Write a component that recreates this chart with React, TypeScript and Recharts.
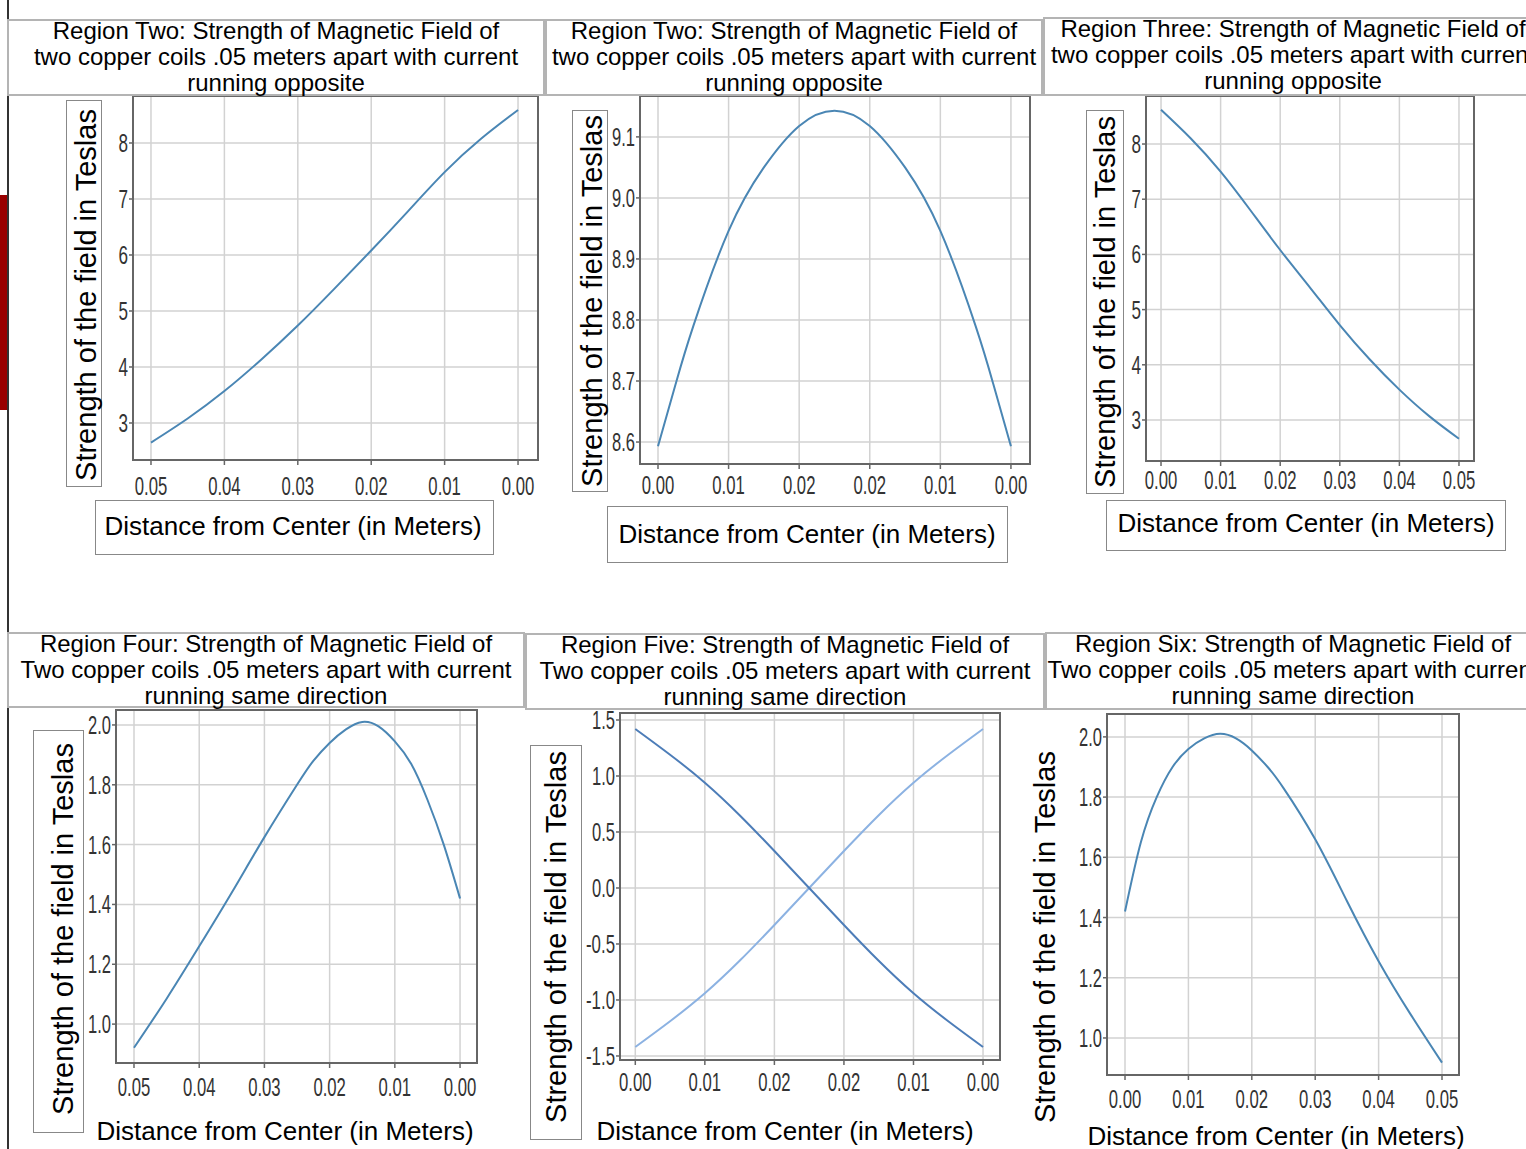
import React from "react";
import { LineChart, Line, XAxis, YAxis, CartesianGrid, ReferenceArea } from "recharts";

// tick values / labels
const xTicks = [0, 0.01, 0.02, 0.03, 0.04, 0.05];
const xLabelsPlain = ["0.00", "0.01", "0.02", "0.03", "0.04", "0.05"];
const xLabelsMirror = ["0.00", "0.01", "0.02", "0.02", "0.01", "0.00"];
const yTicksBig = [3, 4, 5, 6, 7, 8];
const yTicksPeak = [8.6, 8.7, 8.8, 8.9, 9.0, 9.1];
const yTicksSmall = [1.0, 1.2, 1.4, 1.6, 1.8, 2.0];
const yTicksCross = [-1.5, -1.0, -0.5, 0.0, 0.5, 1.0, 1.5];

// region two (left): distance from center vs field
const r2aX = [0.05, 0.045, 0.04, 0.035, 0.03, 0.025, 0.02, 0.015, 0.01, 0.005, 0];
const r2aY = [2.65, 3.08, 3.57, 4.13, 4.74, 5.4, 6.08, 6.78, 7.48, 8.08, 8.59];

// region two (middle)
const r2bX = [0, 0.0025, 0.005, 0.01, 0.015, 0.02, 0.025, 0.03, 0.035, 0.04, 0.045, 0.0475, 0.05];
const r2bY = [8.593, 8.695, 8.79, 8.946, 9.05, 9.118, 9.143, 9.118, 9.05, 8.946, 8.79, 8.695, 8.593];

// region three
const r3X = [0, 0.005, 0.01, 0.015, 0.02, 0.025, 0.03, 0.035, 0.04, 0.045, 0.05];
const r3Y = [8.62, 8.1, 7.5, 6.8, 6.08, 5.4, 4.72, 4.1, 3.55, 3.07, 2.66];

// region four
const r4X = [0.05, 0.045, 0.04, 0.035, 0.03, 0.025, 0.0225, 0.02, 0.0175, 0.015, 0.0125, 0.01, 0.0075, 0.005, 0.0025, 0];
const r4Y = [0.921, 1.085, 1.26, 1.44, 1.625, 1.8, 1.88, 1.94, 1.985, 2.01, 1.995, 1.945, 1.87, 1.75, 1.6, 1.42];

// region five: two coils, opposite signs
const r5X = [0, 0.005, 0.01, 0.015, 0.02, 0.025, 0.03, 0.035, 0.04, 0.045, 0.05];
const r5A = [1.42, 1.19, 0.94, 0.65, 0.33, 0.0, -0.33, -0.65, -0.94, -1.19, -1.42];
const r5B = [-1.42, -1.19, -0.94, -0.65, -0.33, 0.0, 0.33, 0.65, 0.94, 1.19, 1.42];

// region six
const r6X = [0, 0.0025, 0.005, 0.0075, 0.01, 0.0125, 0.015, 0.0175, 0.02, 0.0225, 0.025, 0.03, 0.035, 0.04, 0.045, 0.05];
const r6Y = [1.42, 1.65, 1.8, 1.9, 1.96, 1.995, 2.01, 1.995, 1.955, 1.9, 1.83, 1.66, 1.455, 1.255, 1.08, 0.918];

const LINE = "#4a86b4";
const FONT = "'Liberation Sans', Arial, sans-serif";

const charW = (s: string) =>
  s.split("").reduce((w, c) => w + (c === "." ? 4 : c === "-" ? 6 : 9.5), 0);

function TickText({ x, y, value, anchor, dy }: any) {
  return (
    <text
      x={x}
      y={y}
      dy={dy}
      textAnchor={anchor}
      fontSize={25}
      fill="#333"
      fontFamily={FONT}
      textLength={charW(value)}
      lengthAdjust="spacingAndGlyphs"
    >
      {value}
    </text>
  );
}

type Series = { key: string; color: string };

interface PanelProps {
  plot: { l: number; t: number; r: number; b: number };
  rows: any[];
  series: Series[];
  xDomain: [number, number];
  yDomain: [number, number];
  xLabels: string[];
  yTicks: number[];
  yDigits: number;
  reversed?: boolean;
  xOff: number;
}

function Panel({ plot, rows, series, xDomain, yDomain, xLabels, yTicks, yDigits, reversed, xOff }: PanelProps) {
  const yw = 70;
  const xh = 50;
  const rm = 30;
  const w = plot.r - plot.l + yw + rm;
  const h = plot.b - plot.t + 10 + xh;
  return (
    <div style={{ position: "absolute", left: plot.l - yw, top: plot.t - 10 }}>
      <LineChart width={w} height={h} data={rows} margin={{ top: 10, right: rm, bottom: 0, left: 0 }}>
        <CartesianGrid stroke="#d2d2d2" strokeWidth={1.5} />
        <XAxis
          type="number"
          dataKey="x"
          domain={xDomain}
          ticks={xTicks}
          reversed={reversed}
          allowDataOverflow
          height={xh}
          axisLine={false}
          tickLine={{ stroke: "#666", strokeWidth: 1.5 }}
          tickSize={5}
          tickMargin={xOff - 5}
          tick={(p: any) => {
            let i = 0;
            xTicks.forEach((t, k) => {
              if (Math.abs(t - p.payload.value) < 1e-6) i = k;
            });
            return <TickText x={p.x} y={p.y} value={xLabels[i]} anchor="middle" dy="0.71em" />;
          }}
        />
        <YAxis
          type="number"
          domain={yDomain}
          ticks={yTicks}
          allowDataOverflow
          width={yw}
          axisLine={false}
          tickLine={{ stroke: "#666", strokeWidth: 1.5 }}
          tickSize={4}
          tickMargin={1}
          tick={(p: any) => (
            <TickText x={p.x} y={p.y} value={Number(p.payload.value).toFixed(yDigits)} anchor="end" dy="0.36em" />
          )}
        />
        <ReferenceArea
          x1={xDomain[0]}
          x2={xDomain[1]}
          y1={yDomain[0]}
          y2={yDomain[1]}
          fill="none"
          stroke="#666"
          strokeWidth={2}
          ifOverflow="visible"
        />
        {series.map((s) => (
          <Line
            key={s.key}
            type="natural"
            dataKey={s.key}
            stroke={s.color}
            strokeWidth={2}
            dot={false}
            isAnimationActive={false}
          />
        ))}
      </LineChart>
    </div>
  );
}

const zip = (xs: number[], ...cols: [string, number[]][]) =>
  xs.map((x, i) => {
    const row: any = { x };
    cols.forEach(([k, v]) => (row[k] = v[i]));
    return row;
  });

function TitleBox({ l, t, w, h, lines }: { l: number; t: number; w: number; h: number; lines: string[] }) {
  return (
    <div
      style={{
        position: "absolute",
        left: l,
        top: t,
        width: w,
        height: h,
        boxSizing: "border-box",
        border: "2px solid #b4b4b4",
        background: "#fff",
        fontFamily: FONT,
        fontSize: 24,
        lineHeight: "26px",
        textAlign: "center",
        whiteSpace: "nowrap",
        color: "#000",
      }}
    >
      <div style={{ position: "relative", top: -3 }}>
        {lines.map((s, i) => (
          <div key={i}>{s}</div>
        ))}
      </div>
    </div>
  );
}

function Box({ l, t, w, h }: { l: number; t: number; w: number; h: number }) {
  return (
    <div
      style={{
        position: "absolute",
        left: l,
        top: t,
        width: w,
        height: h,
        boxSizing: "border-box",
        border: "1.5px solid #888",
        background: "#fff",
      }}
    />
  );
}

function Label({ cx, cy, text, size, rotate }: { cx: number; cy: number; text: string; size: number; rotate?: boolean }) {
  return (
    <div
      style={{
        position: "absolute",
        left: cx,
        top: cy,
        transform: `translate(-50%, -50%)${rotate ? " rotate(-90deg)" : ""}`,
        whiteSpace: "nowrap",
        fontFamily: FONT,
        fontSize: size,
        lineHeight: 1,
        color: "#000",
      }}
    >
      {text}
    </div>
  );
}

const YLABEL = "Strength of the field in Teslas";
const XLABEL = "Distance from Center (in Meters)";
const TITLE_OPP = ["two copper coils .05 meters apart with current", "running opposite"];
const TITLE_SAME = ["Two copper coils .05 meters apart with current", "running same direction"];

export default function App() {
  return (
    <div
      style={{
        position: "absolute",
        left: 0,
        top: 0,
        width: 1526,
        height: 1149,
        overflow: "hidden",
        background: "#fff",
      }}
    >
      {/* left page edge */}
      <div style={{ position: "absolute", left: 0, top: 195, width: 7, height: 215, background: "#990000" }} />
      <div style={{ position: "absolute", left: 7, top: 0, width: 2, height: 1149, background: "#333" }} />

      {/* top row */}
      <Box l={66} t={100} w={36} h={387} />
      <Label cx={86} cy={295} text={YLABEL} size={29} rotate />
      <Panel
        plot={{ l: 133, t: 96, r: 538, b: 460 }}
        rows={zip(r2aX, ["y", r2aY])}
        series={[{ key: "y", color: LINE }]}
        xDomain={[-0.00272, 0.05245]}
        yDomain={[2.339, 8.839]}
        xLabels={xLabelsPlain}
        yTicks={yTicksBig}
        yDigits={0}
        reversed
        xOff={17}
      />
      <Box l={95} t={500} w={399} h={55} />
      <Label cx={293} cy={526} text={XLABEL} size={26} />

      <Box l={572} t={110} w={36} h={382} />
      <Label cx={592} cy={301} text={YLABEL} size={29} rotate />
      <Panel
        plot={{ l: 640, t: 96, r: 1030, b: 464 }}
        rows={zip(r2bX, ["y", r2bY])}
        series={[{ key: "y", color: LINE }]}
        xDomain={[-0.00255, 0.0527]}
        yDomain={[8.564, 9.167]}
        xLabels={xLabelsMirror}
        yTicks={yTicksPeak}
        yDigits={1}
        xOff={12}
      />
      <Box l={607} t={506} w={401} h={57} />
      <Label cx={807} cy={534} text={XLABEL} size={26} />

      <Box l={1086} t={110} w={38} h={384} />
      <Label cx={1105} cy={302} text={YLABEL} size={29} rotate />
      <Panel
        plot={{ l: 1146, t: 96, r: 1474, b: 461 }}
        rows={zip(r3X, ["y", r3Y])}
        series={[{ key: "y", color: LINE }]}
        xDomain={[-0.00252, 0.05252]}
        yDomain={[2.257, 8.87]}
        xLabels={xLabelsPlain}
        yTicks={yTicksBig}
        yDigits={0}
        xOff={10}
      />
      <Box l={1106} t={500} w={400} h={51} />
      <Label cx={1306} cy={523} text={XLABEL} size={26} />

      <TitleBox l={7} t={19} w={538} h={77} lines={["Region Two: Strength of Magnetic Field of", ...TITLE_OPP]} />
      <TitleBox l={545} t={19} w={498} h={77} lines={["Region Two: Strength of Magnetic Field of", ...TITLE_OPP]} />
      <TitleBox l={1043} t={17} w={500} h={79} lines={["Region Three: Strength of Magnetic Field of", ...TITLE_OPP]} />

      {/* bottom row */}
      <Box l={33} t={730} w={51} h={403} />
      <Label cx={63} cy={929} text={YLABEL} size={29} rotate />
      <Panel
        plot={{ l: 116, t: 710, r: 477, b: 1063 }}
        rows={zip(r4X, ["y", r4Y])}
        series={[{ key: "y", color: LINE }]}
        xDomain={[-0.0026, 0.05276]}
        yDomain={[0.87, 2.05]}
        xLabels={xLabelsPlain}
        yTicks={yTicksSmall}
        yDigits={1}
        reversed
        xOff={15}
      />
      <Label cx={285} cy={1131} text={XLABEL} size={26} />

      <Box l={530} t={745} w={52} h={395} />
      <Label cx={556} cy={937} text={YLABEL} size={29} rotate />
      <Panel
        plot={{ l: 620, t: 713, r: 1000, b: 1060 }}
        rows={zip(r5X, ["b", r5B], ["a", r5A])}
        series={[
          { key: "b", color: "#8cb2e2" },
          { key: "a", color: "#4d7db8" },
        ]}
        xDomain={[-0.0022, 0.05244]}
        yDomain={[-1.536, 1.5625]}
        xLabels={xLabelsMirror}
        yTicks={yTicksCross}
        yDigits={1}
        xOff={13}
      />
      <Label cx={785} cy={1131} text={XLABEL} size={26} />

      <Label cx={1045} cy={937} text={YLABEL} size={29} rotate />
      <Panel
        plot={{ l: 1107, t: 714, r: 1459, b: 1075 }}
        rows={zip(r6X, ["y", r6Y])}
        series={[{ key: "y", color: LINE }]}
        xDomain={[-0.00284, 0.05268]}
        yDomain={[0.877, 2.076]}
        xLabels={xLabelsPlain}
        yTicks={yTicksSmall}
        yDigits={1}
        xOff={15}
      />
      <Label cx={1276} cy={1136} text={XLABEL} size={26} />

      <TitleBox l={7} t={632} w={518} h={76} lines={["Region Four: Strength of Magnetic Field of", ...TITLE_SAME]} />
      <TitleBox l={525} t={633} w={520} h={77} lines={["Region Five: Strength of Magnetic Field of", ...TITLE_SAME]} />
      <TitleBox l={1045} t={632} w={496} h={78} lines={["Region Six: Strength of Magnetic Field of", ...TITLE_SAME]} />
    </div>
  );
}
